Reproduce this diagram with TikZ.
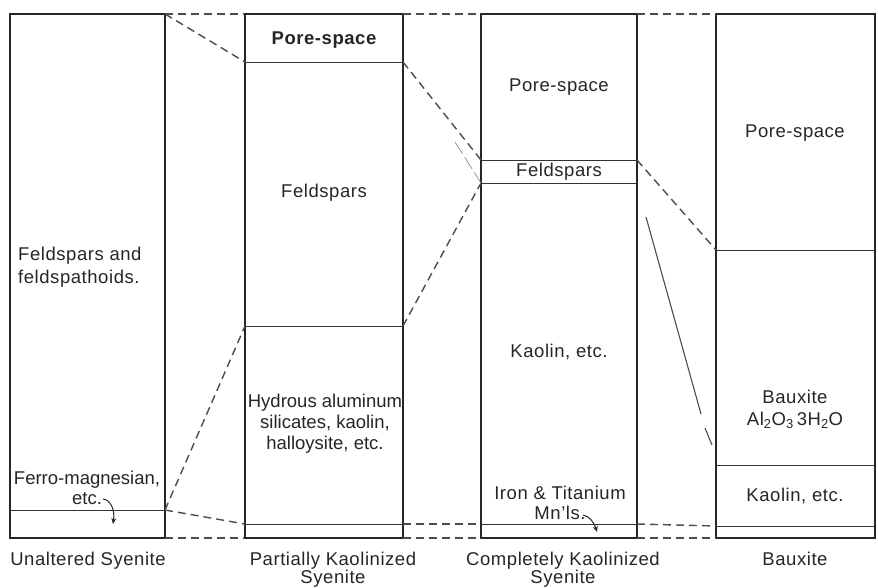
\documentclass[tikz,border=0pt]{standalone}
\usepackage{fontspec}
\setmainfont{Liberation Sans}[LetterSpace=3]
\newfontfamily\tightfont{Liberation Sans}
\usetikzlibrary{arrows.meta}
\begin{document}
\begin{tikzpicture}[x=1pt,y=-1pt]
\tikzset{
  col/.style={draw=black!85, line width=1.8pt, inner sep=0pt, outer sep=0pt, minimum height=524pt},
  div/.style={draw=black!80, line width=1pt},
  dsh/.style={draw=black!70, line width=1.4pt, dash pattern=on 8pt off 5pt},
  txt/.style={font=\fontsize{18.5}{20}\selectfont, align=center, inner sep=0pt, text=black!85},
  arr/.style={draw=black!85, line width=1pt, -{Stealth[length=6pt,width=5pt]}},
}
\useasboundingbox (0,0) rectangle (878,587);
\fill[white] (0,0) rectangle (878,587);

% columns
\node[col, minimum width=155pt] (c1) at (87.5,276) {};
\node[col, minimum width=158pt] (c2) at (324,276) {};
\node[col, minimum width=156pt] (c3) at (559,276) {};
\node[col, minimum width=159pt] (c4) at (795.5,276) {};

% division points
\coordinate (c1a-l) at (10,510);  \coordinate (c1a-r) at (165,510);
\coordinate (c2a-l) at (245,62);  \coordinate (c2a-r) at (403,62);
\coordinate (c2b-l) at (245,326); \coordinate (c2b-r) at (403,326);
\coordinate (c2c-l) at (245,524); \coordinate (c2c-r) at (403,524);
\coordinate (c3a-l) at (481,160); \coordinate (c3a-r) at (637,160);
\coordinate (c3b-l) at (481,183); \coordinate (c3b-r) at (637,183);
\coordinate (c3c-l) at (481,524); \coordinate (c3c-r) at (637,524);
\coordinate (c4a-l) at (716,250); \coordinate (c4a-r) at (875,250);
\coordinate (c4b-l) at (716,465); \coordinate (c4b-r) at (875,465);
\coordinate (c4c-l) at (716,526); \coordinate (c4c-r) at (875,526);

\foreach \d in {c1a,c2a,c2b,c2c,c3a,c3b,c3c,c4a,c4b,c4c}
  \draw[div] (\d-l) -- (\d-r);

% dashed connectors
\draw[dsh] (c1.north east) -- (c2.north west);
\draw[dsh] (c2.north east) -- (c3.north west);
\draw[dsh] (c3.north east) -- (c4.north west);
\draw[dsh] (c1.south east) -- (c2.south west);
\draw[dsh] (c2.south east) -- (c3.south west);
\draw[dsh] (c3.south east) -- (c4.south west);
\draw[dsh] (c1.north east) -- (c2a-l);
\draw[dsh] (c2a-r) -- (c3a-l);
\draw[dsh] (c2b-r) -- (c3b-l);
\draw[dsh] (c1a-r) -- (c2b-l);
\draw[dsh] (c1a-r) -- (c2c-l);
\draw[dsh] (c2c-r) -- (c3c-l);
\draw[dsh] (c3c-r) -- (c4c-l);
\draw[dsh] (c3a-r) -- (c4a-l);
% faint line
\coordinate (f1) at (455,142);
\draw[draw=black!45, line width=0.7pt, dash pattern=on 14pt off 4pt] (f1) -- (c3b-l);
% long pen line
\coordinate (p1) at (646,217);
\coordinate (p2) at (701,414);
\coordinate (p3) at (705,428);
\coordinate (p4) at (712,445);
\draw[draw=black!70, line width=1.1pt] (p1) -- (p2);
\draw[draw=black!70, line width=1.1pt] (p3) -- (p4);

% column 1 text
\node[txt, align=left, anchor=west] (t1a) at (18,267) {Feldspars and\\[3pt]feldspathoids.};
\node[txt, font=\fontsize{18.5}{20}\selectfont\tightfont] (t1b) at (87,488) {Ferro-magnesian,\\etc.};
\coordinate (a1s) at (103,499);
\coordinate (a1e) at (113,524);
\draw[arr] (a1s) .. controls (111,500) and (115,510) .. (a1e);

% column 2 text
\node[txt, font=\fontsize{18.5}{20}\selectfont\bfseries] (t2a) at (324,40) {Pore-space};
\node[txt] (t2b) at (324,193) {Feldspars};
\node[txt, font=\fontsize{18.5}{20}\selectfont\tightfont] (t2c) at (325,424) {Hydrous aluminum\\[1pt]silicates, kaolin,\\[1pt]halloysite, etc.};

% column 3 text
\node[txt] (t3a) at (559,87) {Pore-space};
\node[txt] (t3b) at (559,172) {Feldspars};
\node[txt] (t3c) at (559,352) {Kaolin, etc.};
\node[txt] (t3d) at (560,503) {Iron \& Titanium\\Mn’ls.};
\coordinate (a2s) at (583,515);
\coordinate (a2e) at (597,532);
\draw[arr] (a2s) .. controls (589,516) and (594,522) .. (a2e);

% column 4 text
\node[txt] (t4a) at (795,133) {Pore-space};
\node[txt] (t4b) at (795,409) {Bauxite\\[2pt]Al\textsubscript{2}O\textsubscript{3}\,3H\textsubscript{2}O};
\node[txt] (t4c) at (795,496) {Kaolin, etc.};

% labels
\node[txt, anchor=north, font=\fontsize{18.5}{17}\selectfont] (l1) at (88,552) {Unaltered Syenite};
\node[txt, anchor=north, font=\fontsize{18.5}{17}\selectfont] (l2) at (333,552) {Partially Kaolinized\\Syenite};
\node[txt, anchor=north, font=\fontsize{18.5}{17}\selectfont] (l3) at (563,552) {Completely Kaolinized\\Syenite};
\node[txt, anchor=north, font=\fontsize{18.5}{17}\selectfont] (l4) at (795,552) {Bauxite};
\end{tikzpicture}
\end{document}
